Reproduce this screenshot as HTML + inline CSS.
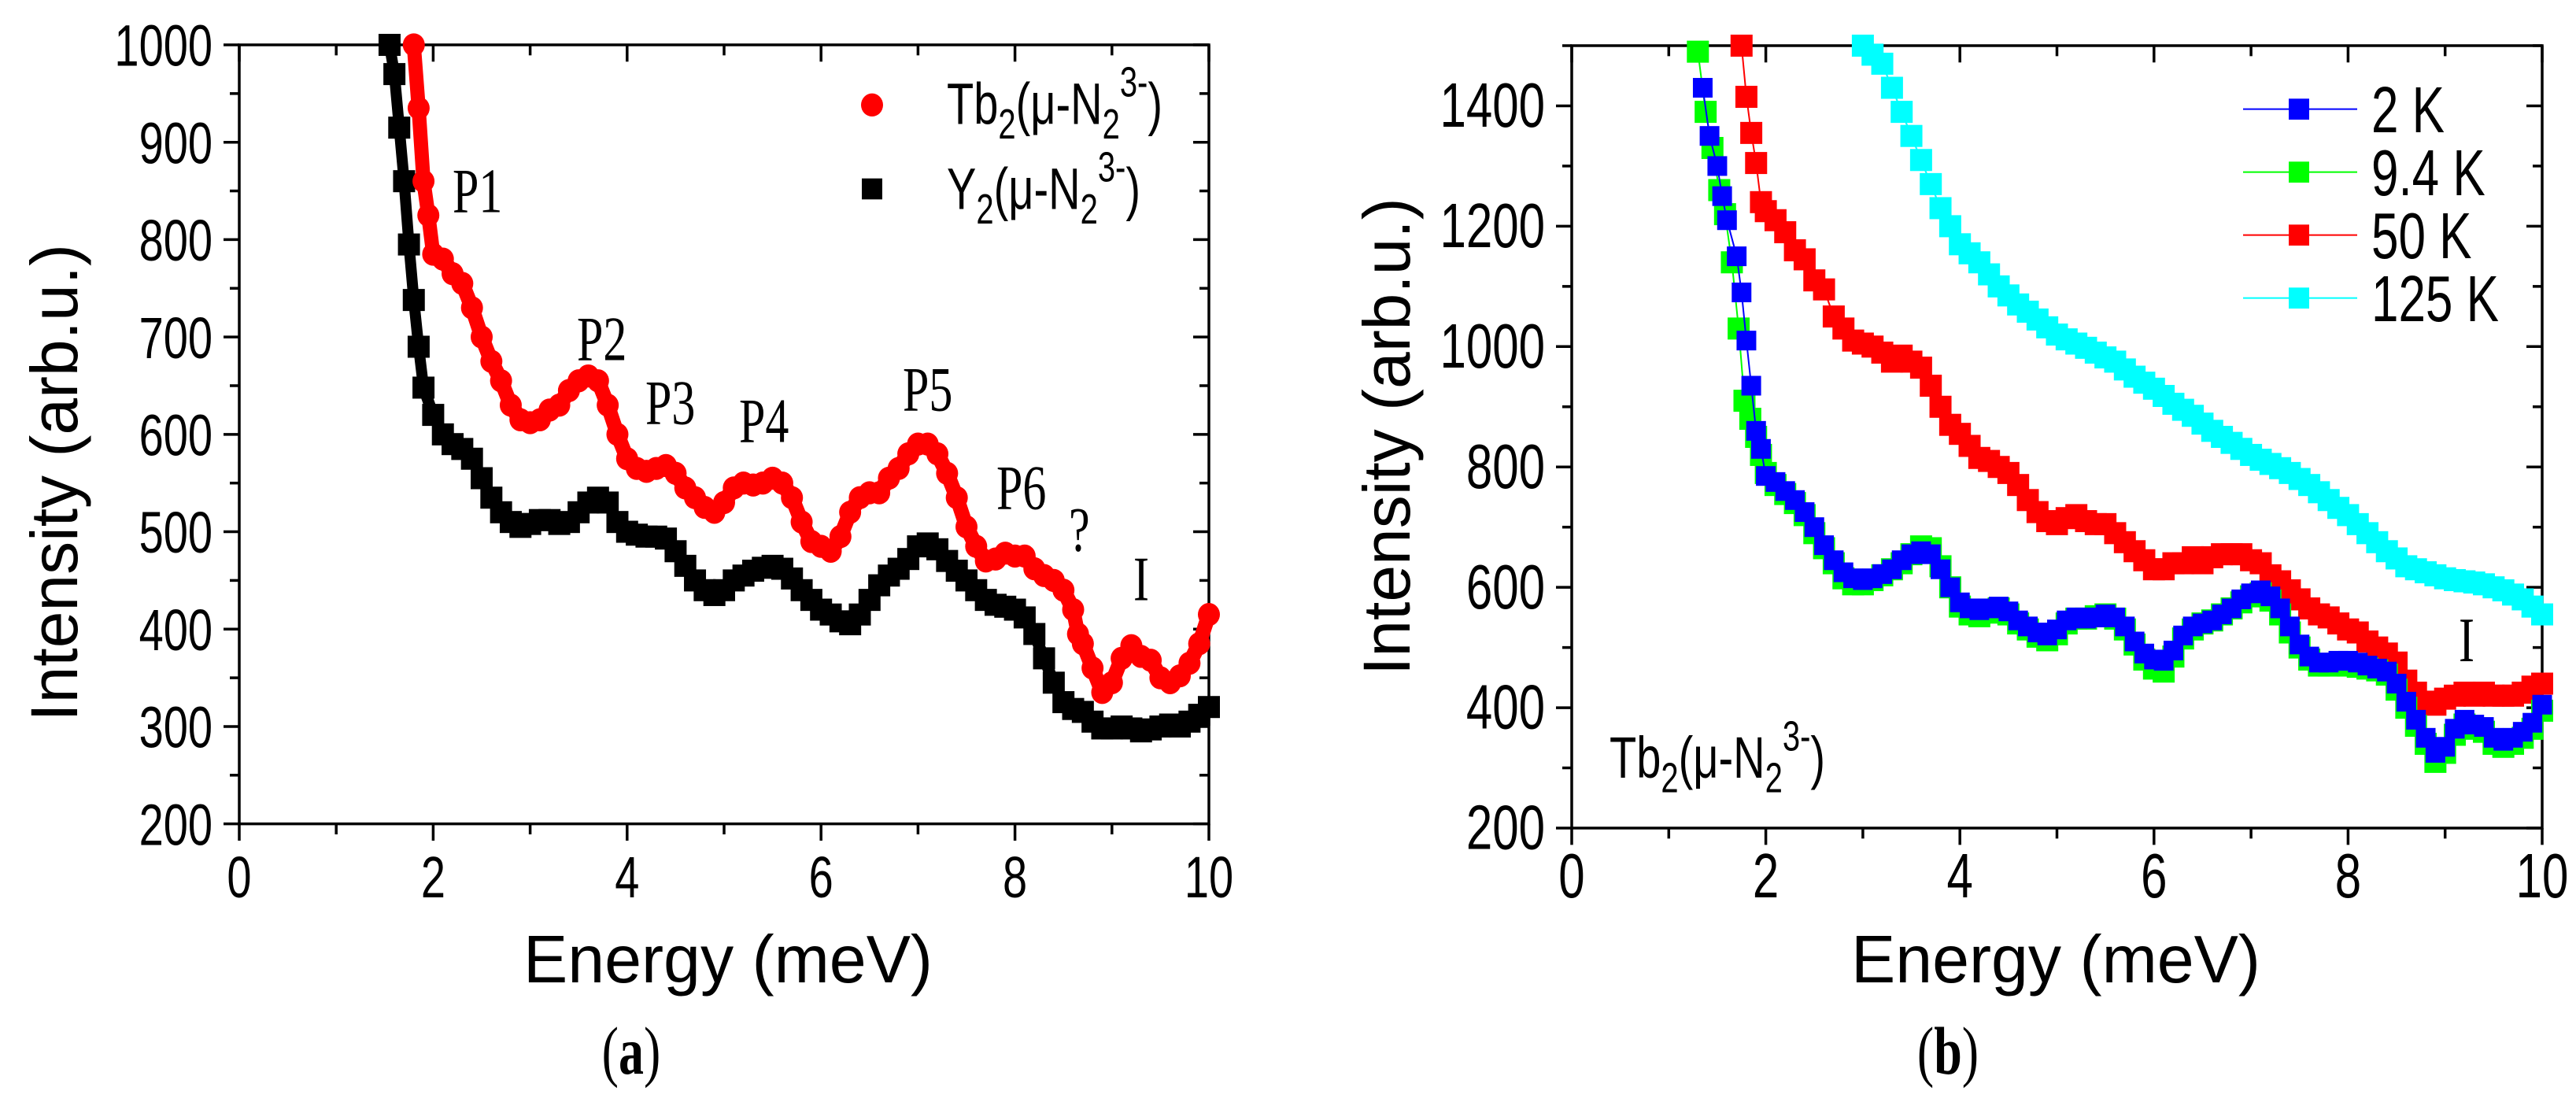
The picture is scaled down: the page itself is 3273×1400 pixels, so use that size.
<!DOCTYPE html>
<html><head><meta charset="utf-8"><style>
html,body{margin:0;padding:0;background:#fff;}
svg{display:block;}
text{font-family:"Liberation Sans",sans-serif;fill:#000;}
.serif{font-family:"Liberation Serif",serif;}
</style></head><body>
<svg id="fig" width="3273" height="1400" viewBox="0 0 3273 1050" preserveAspectRatio="none" xmlns="http://www.w3.org/2000/svg">
<g id="pa"></g>
<g id="pb"></g>
</svg>
<script>
// ---- Panel (a) data ----
const aTbX = [1.8,1.85,1.9,1.95,2.0,2.1,2.2,2.3,2.4,2.5,2.6,2.7,2.8,2.9,3.0,3.1,3.2,3.3,3.4,3.5,3.6,3.7,3.8,3.9,4.0,4.1,4.2,4.3,4.4,4.5,4.6,4.7,4.8,4.9,5.0,5.1,5.2,5.3,5.4,5.5,5.6,5.7,5.8,5.9,6.0,6.1,6.2,6.3,6.4,6.5,6.6,6.7,6.8,6.9,7.0,7.1,7.2,7.3,7.4,7.5,7.6,7.7,7.8,7.9,8.0,8.1,8.2,8.3,8.4,8.5,8.6,8.65,8.7,8.8,8.9,9.0,9.1,9.2,9.3,9.4,9.5,9.6,9.7,9.8,9.9,10.0];
const aTbY = [1000,935,860,825,785,780,765,755,730,700,675,655,630,615,612,615,625,630,645,655,660,655,630,600,575,565,562,565,568,560,545,535,525,520,530,545,550,548,550,555,550,535,510,490,485,480,495,520,535,540,540,555,565,580,590,590,580,560,535,505,485,470,472,478,475,475,462,455,450,440,420,395,385,360,335,345,370,383,372,368,350,345,352,365,385,415];
const aYX = [1.55,1.6,1.65,1.7,1.75,1.8,1.85,1.9,2.0,2.1,2.2,2.3,2.4,2.5,2.6,2.7,2.8,2.9,3.0,3.1,3.2,3.3,3.4,3.5,3.6,3.7,3.8,3.9,4.0,4.1,4.2,4.3,4.4,4.5,4.6,4.7,4.8,4.9,5.0,5.1,5.2,5.3,5.4,5.5,5.6,5.7,5.8,5.9,6.0,6.1,6.2,6.3,6.4,6.5,6.6,6.7,6.8,6.9,7.0,7.1,7.2,7.3,7.4,7.5,7.6,7.7,7.8,7.9,8.0,8.1,8.2,8.3,8.4,8.5,8.6,8.7,8.8,8.9,9.0,9.1,9.2,9.3,9.4,9.5,9.6,9.7,9.8,9.9,10.0];
const aYY = [1000,970,915,860,795,738,690,648,620,600,590,585,575,555,535,520,510,505,508,512,512,508,510,520,530,535,530,510,500,497,495,495,493,480,465,450,440,435,440,450,455,460,463,465,462,452,440,430,420,415,408,405,415,430,445,455,462,472,485,488,482,470,460,450,440,430,425,423,420,412,395,370,345,325,318,315,305,298,298,300,298,295,297,300,302,300,305,312,320];
const aXTicks = [0,2,4,6,8,10];
const aYTicks = [200,300,400,500,600,700,800,900,1000];

// ---- Panel (b) data ----
const b2KX = [1.35,1.42,1.5,1.55,1.6,1.7,1.75,1.8,1.85,1.9,1.95,2.0,2.1,2.2,2.3,2.4,2.5,2.6,2.7,2.8,2.9,3.0,3.1,3.2,3.3,3.4,3.5,3.6,3.7,3.8,3.9,4.0,4.1,4.2,4.3,4.4,4.5,4.6,4.7,4.8,4.9,5.0,5.1,5.2,5.3,5.4,5.5,5.6,5.7,5.8,5.9,6.0,6.1,6.2,6.3,6.4,6.5,6.6,6.7,6.8,6.9,7.0,7.1,7.2,7.3,7.4,7.5,7.6,7.7,7.8,7.9,8.0,8.1,8.2,8.3,8.4,8.5,8.6,8.7,8.8,8.9,9.0,9.1,9.2,9.3,9.4,9.5,9.6,9.7,9.8,9.9,10.0];
const b2KY = [1430,1350,1300,1250,1210,1150,1090,1010,935,860,830,785,775,760,745,725,700,670,645,625,615,612,615,622,630,645,655,660,655,630,600,575,565,562,565,568,560,545,535,525,520,530,545,550,548,550,555,550,535,510,490,480,478,495,520,535,540,545,555,565,580,590,595,585,565,535,505,485,475,475,478,478,475,470,465,460,440,410,380,350,325,335,365,380,372,368,350,345,350,360,375,405];
const b9KX = [1.3,1.38,1.45,1.52,1.58,1.65,1.72,1.78,1.84,1.9,1.95,2.0,2.1,2.2,2.3,2.4,2.5,2.6,2.7,2.8,2.9,3.0,3.1,3.2,3.3,3.4,3.5,3.6,3.7,3.8,3.9,4.0,4.1,4.2,4.3,4.4,4.5,4.6,4.7,4.8,4.9,5.0,5.1,5.2,5.3,5.4,5.5,5.6,5.7,5.8,5.9,6.0,6.1,6.2,6.3,6.4,6.5,6.6,6.7,6.8,6.9,7.0,7.1,7.2,7.3,7.4,7.5,7.6,7.7,7.8,7.9,8.0,8.1,8.2,8.3,8.4,8.5,8.6,8.7,8.8,8.9,9.0,9.1,9.2,9.3,9.4,9.5,9.6,9.7,9.8,9.9,10.0];
const b9KY = [1490,1390,1330,1260,1220,1140,1030,910,880,850,820,790,770,755,740,720,690,665,640,615,605,605,612,620,630,640,655,668,665,635,600,568,555,552,558,565,555,540,530,518,512,522,540,548,548,552,555,548,530,505,480,465,460,485,515,530,540,545,555,565,575,585,590,578,555,525,500,480,470,470,472,470,468,465,462,455,430,400,370,340,310,325,355,372,365,360,340,335,340,350,365,395];
const b50KX = [1.75,1.8,1.85,1.9,1.95,2.0,2.1,2.2,2.3,2.4,2.5,2.6,2.7,2.8,2.9,3.0,3.1,3.2,3.3,3.4,3.5,3.6,3.7,3.8,3.9,4.0,4.1,4.2,4.3,4.4,4.5,4.6,4.7,4.8,4.9,5.0,5.1,5.2,5.3,5.4,5.5,5.6,5.7,5.8,5.9,6.0,6.1,6.2,6.3,6.4,6.5,6.6,6.7,6.8,6.9,7.0,7.1,7.2,7.3,7.4,7.5,7.6,7.7,7.8,7.9,8.0,8.1,8.2,8.3,8.4,8.5,8.6,8.7,8.8,8.9,9.0,9.1,9.2,9.3,9.4,9.5,9.6,9.7,9.8,9.9,10.0];
const b50KY = [1500,1415,1355,1305,1240,1225,1210,1190,1160,1145,1110,1095,1050,1030,1010,1005,1000,990,975,985,975,965,935,900,870,855,835,815,810,800,790,770,745,725,710,705,715,720,710,705,705,690,675,660,645,630,630,640,640,650,640,650,655,655,655,645,640,620,610,595,580,565,555,550,540,530,525,510,500,490,475,445,425,410,405,415,420,425,420,425,420,420,420,425,435,440];
const b125KX = [3.0,3.1,3.2,3.3,3.4,3.5,3.6,3.7,3.8,3.9,4.0,4.1,4.2,4.3,4.4,4.5,4.6,4.7,4.8,4.9,5.0,5.1,5.2,5.3,5.4,5.5,5.6,5.7,5.8,5.9,6.0,6.1,6.2,6.3,6.4,6.5,6.6,6.7,6.8,6.9,7.0,7.1,7.2,7.3,7.4,7.5,7.6,7.7,7.8,7.9,8.0,8.1,8.2,8.3,8.4,8.5,8.6,8.7,8.8,8.9,9.0,9.1,9.2,9.3,9.4,9.5,9.6,9.7,9.8,9.9,10.0];
const b125KY = [1500,1485,1470,1430,1390,1350,1310,1270,1230,1200,1170,1155,1140,1120,1100,1085,1070,1058,1045,1032,1020,1012,1005,998,990,982,975,962,950,940,930,918,905,895,885,872,860,850,840,830,820,812,805,798,790,780,770,758,745,732,720,705,690,675,660,648,635,630,625,620,615,612,610,608,605,600,595,588,580,568,555];
const bXTicks = [0,2,4,6,8,10];
const bYTicks = [200,400,600,800,1000,1200,1400];

const NS = "http://www.w3.org/2000/svg";
function mk(parent, tag, attrs, txt){
  const e = document.createElementNS(NS, tag);
  for (const k in attrs) e.setAttribute(k, attrs[k]);
  if (txt !== undefined) e.textContent = txt;
  parent.appendChild(e);
  return e;
}
function scaleX(p, v){ return p.x0 + (v - p.xmin) / (p.xmax - p.xmin) * (p.x1 - p.x0); }
function scaleY(p, v){ return p.yb + (v - p.ymin) / (p.ymax - p.ymin) * (p.yt - p.yb); }

const PA = {g: document.getElementById('pa'), x0:304, x1:1536, yt:42.75, yb:785, xmin:0, xmax:10, ymin:200, ymax:1000};
const PB = {g: document.getElementById('pb'), x0:1997, x1:3230, yt:43.5, yb:789, xmin:0, xmax:10, ymin:200, ymax:1500};

function axes(p, xt, yt, yMinorStep, tickFont, tickName){
  const g = p.g;
  const lw = {stroke:'#000','stroke-width':3.5,'vector-effect':'non-scaling-stroke',fill:'none'};
  const fr = mk(g,'rect',Object.assign({x:p.x0,y:p.yt,width:p.x1-p.x0,height:p.yb-p.yt},lw));
  
  
  for (let v = p.xmin; v <= p.xmax + 1e-9; v += 1){
    const x = scaleX(p, v);
    const major = Math.abs(v % 2) < 1e-9;
    const L = major ? 16 : 10;
    const t1 = mk(g,'line',Object.assign({x1:x,x2:x,y1:p.yb,y2:p.yb+L},lw));
    
    
    const t2 = mk(g,'line',Object.assign({x1:x,x2:x,y1:p.yt,y2:p.yt+L},lw));
    
    
  }
  xt.forEach(v => {
    const t = mk(g,'text',{x:scaleX(p,v),y:855,'text-anchor':'middle','font-size':tickFont}, String(v));
    
    
  });
  for (let v = p.ymin; v <= p.ymax + 1e-9; v += yMinorStep){
    const y = scaleY(p, v);
    const major = yt.indexOf(v) >= 0;
    const L = major ? 20 : 12;
    const t1 = mk(g,'line',Object.assign({x1:p.x0-L,x2:p.x0,y1:y,y2:y},lw));
    
    
    const t2 = mk(g,'line',Object.assign({x1:p.x1-L,x2:p.x1,y1:y,y2:y},lw));
    
    
  }
  yt.forEach(v => {
    const t = mk(g,'text',{x:p.x0-34,y:scaleY(p,v)+20,'text-anchor':'end','font-size':tickFont}, String(v));
    
    
  });
}

function circles(p, xs, ys, color, name){
  const g = mk(p.g,'g',{});
  
  
  const pts = xs.map((x,i)=>scaleX(p,x)+','+scaleY(p,ys[i])).join(' ');
  mk(g,'polyline',{points:pts,fill:'none',stroke:color,'stroke-width':18,'stroke-linejoin':'round'});
  xs.forEach((x,i)=>{
    const c = mk(g,'ellipse',{cx:scaleX(p,x),cy:scaleY(p,ys[i]),rx:14,ry:11,fill:color});
    
    
  });
}
function squares(p, xs, ys, color, name, lineW, sz){
  const g = mk(p.g,'g',{});
  
  
  const pts = xs.map((x,i)=>scaleX(p,x)+','+scaleY(p,ys[i])).join(' ');
  mk(g,'polyline',{points:pts,fill:'none',stroke:color,'stroke-width':lineW});
  xs.forEach((x,i)=>{
    const r = mk(g,'rect',{x:scaleX(p,x)-sz/2,y:scaleY(p,ys[i])-sz*0.75/2,width:sz,height:sz*0.75,fill:color});
    
    
  });
}
function label(g, x, y, txt, size, name, extra){
  const t = mk(g,'text',Object.assign({x:x,y:y,'font-size':size},extra||{}));
  t.innerHTML = txt;
  
  
  return t;
}

// ---- Panel (a) ----
axes(PA, aXTicks, aYTicks, 50, 56, 'panel-a');
squares(PA, aYX, aYY, '#000', 'series-y2-n2', 14, 28);
circles(PA, aTbX, aTbY, '#f00', 'series-tb2-n2');
label(PA.g, 925, 936, 'Energy (meV)', 64, 'x-axis-title', {'text-anchor':'middle', textLength:520, lengthAdjust:'spacingAndGlyphs'});
label(PA.g, 0, 0, 'Intensity (arb.u.)', 84, 'y-axis-title', {'text-anchor':'middle', transform:'translate(98,460) rotate(-90)', textLength:455, lengthAdjust:'spacingAndGlyphs'});
label(PA.g, 802, 1023, '(<tspan font-weight="bold">a</tspan>)', 64, 'panel-label-a', {'text-anchor':'middle','class':'serif'});
const la1 = mk(PA.g,'ellipse',{cx:1108,cy:100,rx:14,ry:11,fill:'#f00'});


label(PA.g, 1203, 118, 'Tb<tspan font-size="40" dy="14">2</tspan><tspan dy="-14">(μ-N</tspan><tspan font-size="40" dy="14">2</tspan><tspan font-size="40" dy="-40">3-</tspan><tspan dy="26">)</tspan>', 56, 'legend-entry-tb2');
const la2 = mk(PA.g,'rect',{x:1095,y:170,width:26,height:20,fill:'#000'});


label(PA.g, 1203, 199, 'Y<tspan font-size="40" dy="14">2</tspan><tspan dy="-14">(μ-N</tspan><tspan font-size="40" dy="14">2</tspan><tspan font-size="40" dy="-40">3-</tspan><tspan dy="26">)</tspan>', 56, 'legend-entry-y2');
const peaks = [['P1',575,202],['P2',733,343],['P3',820,404],['P4',939,421],['P5',1147,391],['P6',1266,485],['?',1358,525],['I',1440,572]];
peaks.forEach(pk => {
  label(PA.g, pk[1], pk[2], pk[0], 60, 'peak-label-' + (pk[0]==='?'?'unknown':pk[0].toLowerCase()), {'class':'serif'});
});

// ---- Panel (b) ----
axes(PB, bXTicks, bYTicks, 100, 60, 'panel-b');
squares(PB, b125KX, b125KY, '#0ff', 'series-125k', 2, 28);
squares(PB, b50KX, b50KY, '#f00', 'series-50k', 2, 28);
squares(PB, b9KX, b9KY, '#0f0', 'series-9-4k', 2, 28);
squares(PB, b2KX, b2KY, '#00f', 'series-2k', 2, 25);
label(PB.g, 2612, 936, 'Energy (meV)', 64, 'x-axis-title', {'text-anchor':'middle', textLength:520, lengthAdjust:'spacingAndGlyphs'});
label(PB.g, 0, 0, 'Intensity (arb.u.)', 84, 'y-axis-title', {'text-anchor':'middle', transform:'translate(1791,416) rotate(-90)', textLength:455, lengthAdjust:'spacingAndGlyphs'});
label(PB.g, 2475, 1023, '(<tspan font-weight="bold">b</tspan>)', 64, 'panel-label-b', {'text-anchor':'middle','class':'serif'});
label(PB.g, 2045, 741, 'Tb<tspan font-size="40" dy="14">2</tspan><tspan dy="-14">(μ-N</tspan><tspan font-size="40" dy="14">2</tspan><tspan font-size="40" dy="-40">3-</tspan><tspan dy="26">)</tspan>', 56, 'sample-label');
label(PB.g, 3124, 630, 'I', 60, 'peak-label-i', {'class':'serif'});
const legB = [['2 K','#00f',104],['9.4 K','#0f0',164],['50 K','#f00',224],['125 K','#0ff',284]];
legB.forEach(e => {
  const g = mk(PB.g,'g',{});
  
  
  mk(g,'line',{x1:2850,x2:2995,y1:e[2],y2:e[2],stroke:e[1],'stroke-width':2,'vector-effect':'non-scaling-stroke'});
  mk(g,'rect',{x:2908,y:e[2]-10,width:26,height:20,fill:e[1]});
  mk(g,'text',{x:3013,y:e[2]+22,'font-size':62}, e[0]);
});
</script>
</body></html>
